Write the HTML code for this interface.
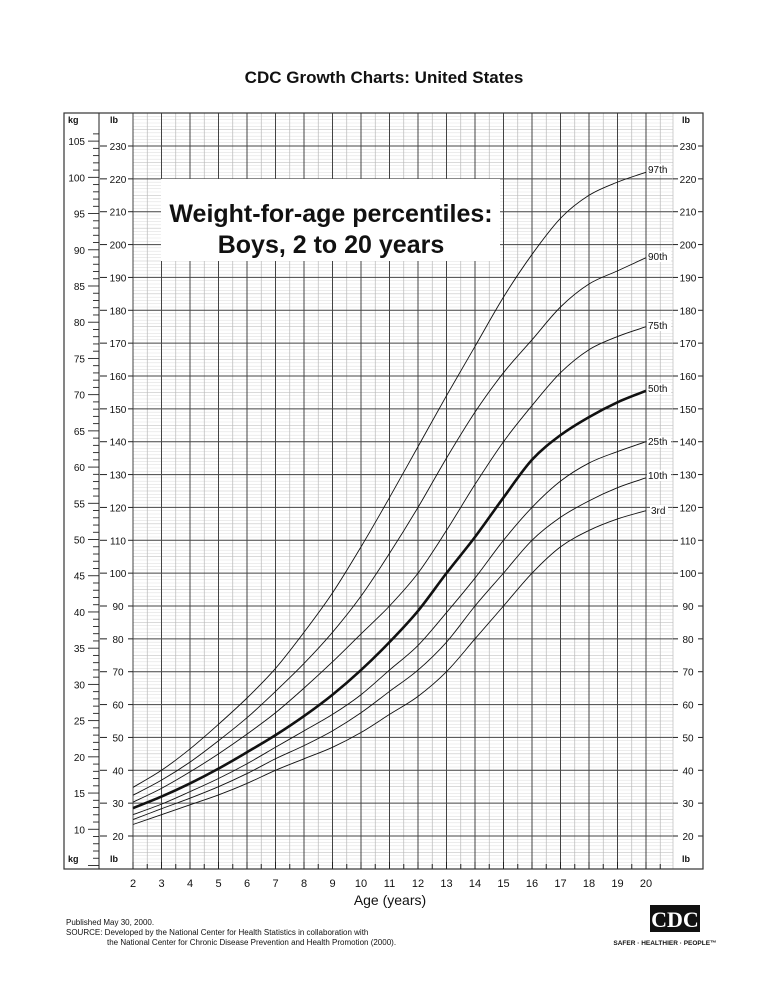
<!DOCTYPE html>
<html><head><meta charset="utf-8"><style>
html,body{margin:0;padding:0;background:#fff;}
body{width:768px;height:994px;overflow:hidden;font-family:"Liberation Sans",Arial,sans-serif;}
</style></head><body>
<svg id="s" width="768" height="994" xmlns="http://www.w3.org/2000/svg" font-family="Liberation Sans, Arial, sans-serif"></svg>
<script>
const s=document.getElementById('s');
let h='';
const Y=lb=>146+(230-lb)*3.2857;
const X=a=>133+28.5*(a-2);
const L=(x1,y1,x2,y2,c,w)=>h+=`<line x1="${x1}" y1="${y1}" x2="${x2}" y2="${y2}" stroke="${c}" stroke-width="${w}"/>`;
const T=(x,y,t,sz,anc,wt)=>h+=`<text x="${x}" y="${y}" font-size="${sz}" text-anchor="${anc||'start'}" font-weight="${wt||'normal'}" fill="#111">${t}</text>`;
T(384,83,'CDC Growth Charts: United States',17,'middle','bold');
const PL=99,PR=676,PT=113,PB=869;
for(let lb=11;lb<240;lb++){ if(lb%10==0)continue; L(PL,Y(lb),PR,Y(lb),lb%5==0?'#c4c4c4':'#e2e2e2',0.6);}
for(let a=0.5;a<=21.5;a+=0.5){const x=X(a); if(x<=PL+1||x>=PR-1)continue; if(a%1!=0)L(x,PT,x,PB,'#b8b8b8',0.7);}
for(let a=1;a<=21;a++){const x=X(a); if(x<=PL+1||x>=PR-1)continue; L(x,PT,x,PB,'#444',1);}
for(let lb=20;lb<=230;lb+=10){L(PL,Y(lb),PR,Y(lb),'#444',1);}
h+=`<rect x="161" y="179" width="339" height="82" fill="#fff"/>`;
T(331,222,'Weight-for-age percentiles:',25,'middle','bold');
T(331,253,'Boys, 2 to 20 years',25,'middle','bold');
h+=`<rect x="64" y="113" width="69" height="756" fill="#fff"/>`;
h+=`<rect x="673" y="113" width="30" height="756" fill="#fff"/>`;
L(133,PT,133,PB,'#444',1);
L(673,PT,673,PB,'#bbb',0.7);
for(let lb=20;lb<=230;lb+=10){const y=Y(lb);L(100,y,107,y,'#222',1);L(128,y,133,y,'#222',1);T(118,y+4,lb,10,'middle');
 L(673,y,678,y,'#222',1);L(698,y,703,y,'#222',1);T(688,y+4,lb,10,'middle');}
for(let kg=5;kg<=108;kg++){const y=Y(kg*2.20462); if(y<PT+18||y>PB-2)continue; L(kg%5==0?88:93,y,99,y,'#222',0.9); if(kg%5==0&&kg>=10)T(85,y+4,kg,10,'end');}
L(99,PT,99,PB,'#222',1);
T(68,123,'kg',9,'start','bold');T(68,862,'kg',9,'start','bold');
T(110,123,'lb',9,'start','bold');T(110,862,'lb',9,'start','bold');
T(682,123,'lb',9,'start','bold');T(682,862,'lb',9,'start','bold');
h+=`<rect x="64" y="113" width="639" height="756" fill="none" stroke="#333" stroke-width="1.2"/>`;
for(let a=2;a<=20.5;a+=0.5){const x=X(a);L(x,PB,x,PB-(a%1==0?7:5),'#222',1); if(a%1==0&&a<=20)T(x,887,a,11,'middle');}
T(390,905,'Age (years)',14,'middle');
const ages=[2,3,4,5,6,7,8,9,10,11,12,13,14,15,16,17,18,19,20];
const D={
'97th':[34.8,40,46.5,54,62,71,82,94,108,123,138.5,154,169,184,197,208,215,219,222],
'90th':[32.4,37,42.5,49,56,64,72.5,82,93,106,120,135,149,161,171,181,188,192,196],
'75th':[30.3,34.5,39.5,45,51,57.5,65,73,81.5,90,100,113,127,140,151,161,168,172,175],
'50th':[28.5,32,36,40.5,45.5,50.7,56.5,63,70.5,79,88.5,100,111,123,134.5,142,147.5,152,155.5],
'25th':[26.5,29.7,33.5,37.5,42,47,52,57,63,70.5,78,88,98.5,110,120,128,133.5,137,140],
'10th':[25,28.3,31.5,35,39,43.5,47.5,52,57.5,64,70.5,79,90,100,110,117,122,126,129],
'3rd':[23.5,26.5,29.5,32.5,36,40,43.5,47,51.5,57,62.5,70,80,90,100,108,113,116.5,119]};
const lab={'97th':[648,173],'90th':[648,260],'75th':[648,329],'50th':[648,392],'25th':[648,445],'10th':[648,479],'3rd':[651,514]};
for(const k in D){const p=ages.map((a,i)=>[X(a),Y(D[k][i])]);
 let d=`M${p[0][0]},${p[0][1]}`;
 for(let i=0;i<p.length-1;i++){const p0=p[i-1]||p[i],p1=p[i],p2=p[i+1],p3=p[i+2]||p2;
  d+=` C${p1[0]+(p2[0]-p0[0])/6},${p1[1]+(p2[1]-p0[1])/6} ${p2[0]-(p3[0]-p1[0])/6},${p2[1]-(p3[1]-p1[1])/6} ${p2[0]},${p2[1]}`;}
 h+=`<path d="${d}" fill="none" stroke="#111" stroke-width="${k=='50th'?2.6:0.9}"/>`;
 const q=lab[k];h+=`<rect x="${q[0]-1}" y="${q[1]-9}" width="${k=='3rd'?18:24}" height="11" fill="#fff"/>`;T(q[0],q[1],k,10);}
T(66,925,'Published May 30, 2000.',8);
T(66,935,'SOURCE: Developed by the National Center for Health Statistics in collaboration with',8);
T(107,945,'the National Center for Chronic Disease Prevention and Health Promotion (2000).',8);
h+=`<rect x="650" y="905" width="50" height="27" fill="#111"/>`;
h+=`<text x="675" y="927" font-size="22" font-family="Liberation Serif, serif" font-weight="bold" text-anchor="middle" fill="#fff">CDC</text>`;
h+=`<text x="665" y="945" font-size="6.5" font-weight="bold" text-anchor="middle" fill="#111">SAFER · HEALTHIER · PEOPLE™</text>`;
s.innerHTML=h;
</script>
</body></html>
